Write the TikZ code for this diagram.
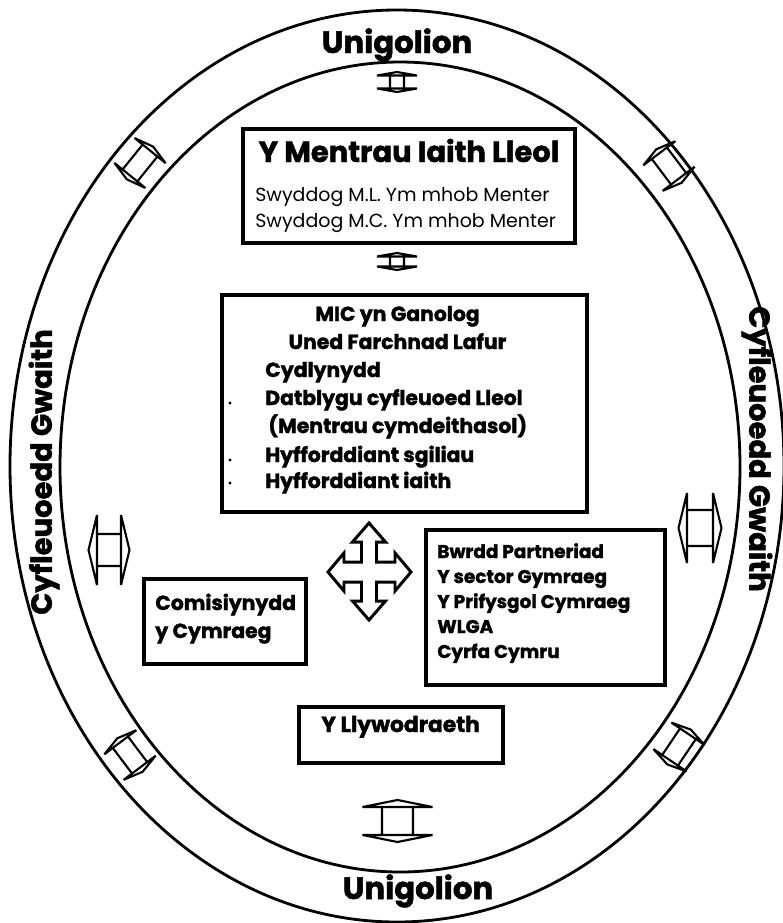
\documentclass[tikz,border=0pt]{standalone}
\usepackage{fontspec}
\setmainfont{Poppins}[BoldFeatures={FakeBold=1.6}]
\usetikzlibrary{calc}
\tikzset{
  heavy/.style={font=\bfseries\fontsize{#1}{#1}\selectfont,inner sep=0pt},
  light/.style={font=\fontsize{#1}{#1}\selectfont,inner sep=0pt},
  bigbox/.style={line width=2.6pt},
  smallbox/.style={line width=1.9pt},
  ring/.style={line width=1.6pt},
}
\newcommand\dblarrow[7]{%
  \begin{scope}[shift={(#1,#2)},rotate=#3,line width=1.2pt,line join=miter,miter limit=4]
    \draw (-#4,-#7) -- (-#4-#5,0) -- (-#4,#7) -- cycle
          (#4,-#7) -- (#4+#5,0) -- (#4,#7) -- cycle
          (-#4,-#6) -- (#4,-#6) (-#4,#6) -- (#4,#6);
  \end{scope}}
\begin{document}
\begin{tikzpicture}[x=0.02cm,y=-0.02cm]
\useasboundingbox (0,0) rectangle (782,923);
\pgfmathsetmacro\ra{387}
\pgfmathsetmacro\rb{456}
\pgfmathsetmacro\ia{340}
\pgfmathsetmacro\ib{405}
\coordinate (O) at (397,466);
\coordinate (I) at (400,467);
\draw[ring] (O) ellipse [x radius=\ra,y radius=\rb];
\draw[ring] (I) ellipse [x radius=\ia,y radius=\ib];
\node[heavy=17.5,anchor=base] (unitop) at (397,53) {Unigolion};
\node[heavy=17.5,anchor=base] (unibot) at (418,899) {Unigolion};
\node[heavy=16.5,rotate=90] (gwaithL) at (44,472) {Cyfleuoedd Gwaith};
\node[heavy=16.5,rotate=-90] (gwaithR) at (757,449) {Cyfleuoedd Gwaith};
% ring arrows
\dblarrow{397}{82}{90}{6.5}{3.5}{7}{20}
\dblarrow{397}{261.5}{90}{5}{3.5}{7}{20}
\dblarrow{397.5}{821}{90}{14}{7}{15.5}{35}
\dblarrow{109}{550}{0}{12}{8.5}{16}{35}
\dblarrow{700}{528}{0}{13}{8.5}{18}{35}
\dblarrow{140}{163}{51}{16}{5}{9.5}{20}
\dblarrow{669}{166}{-53}{16}{5}{9.5}{20}
\dblarrow{130}{755}{-53}{16}{5}{9.5}{20}
\dblarrow{679}{747}{56}{16}{5}{9.5}{20}
% Mentrau
\draw[bigbox] (243,129) rectangle (575,243);
\node[heavy=16.5,anchor=base] (mentrau) at (409,162) {Y Mentrau Iaith Lleol};
\node[light=10.8,anchor=base west] (swml) at (255,201) {Swyddog M.L. Ym mhob Menter};
\node[light=10.8,anchor=base west] (swmc) at (255,227) {Swyddog M.C. Ym mhob Menter};
% MIC
\draw[bigbox] (222,295) rectangle (587,512);
\node[heavy=11.6,anchor=base] (mic) at (397.5,321) {MIC yn Ganolog};
\node[heavy=11.6,anchor=base] (uned) at (397.5,349) {Uned Farchnad Lafur};
\node[heavy=11.6,anchor=base west] (cydl) at (265,377) {Cydlynydd};
\node[heavy=11.6,anchor=base west] (datb) at (265,405) {Datblygu cyfleuoed Lleol};
\node[heavy=11.6,anchor=base west] (ment) at (268,433) {(Mentrau cymdeithasol)};
\node[heavy=11.6,anchor=base west] (sgil) at (265,462) {Hyfforddiant sgiliau};
\node[heavy=11.6,anchor=base west] (iaith) at (265,488) {Hyfforddiant iaith};
\foreach \yy in {403,460,483} \fill (230,\yy) circle (1.6);
% cross arrow
\begin{scope}[shift={(369,572)},line width=1.7pt,line join=miter]
\draw (0,-49) -- (16.5,-30) -- (7.5,-30) -- (7.5,-10) -- (26,-10) -- (26,-19) -- (42,0)
  -- (26,19) -- (26,10) -- (7.5,10) -- (7.5,29) -- (16.5,29) -- (0,48)
  -- (-16.5,29) -- (-7.5,29) -- (-7.5,10) -- (-25,10) -- (-25,19) -- (-41,0)
  -- (-25,-19) -- (-25,-10) -- (-7.5,-10) -- (-7.5,-30) -- (-16.5,-30) -- cycle;
\end{scope}
% partners
\draw[smallbox] (426,530) rectangle (665,685);
\node[heavy=10.5,anchor=base west] (bwrdd) at (437,558) {Bwrdd Partneriad};
\node[heavy=10.5,anchor=base west] (sector) at (437,583) {Y sector Gymraeg};
\node[heavy=10.5,anchor=base west] (prif) at (437,608) {Y Prifysgol Cymraeg};
\node[heavy=10.5,anchor=base west] (wlga) at (437,633) {WLGA};
\node[heavy=10.5,anchor=base west] (cyrfa) at (437,658) {Cyrfa Cymru};
\draw[smallbox] (144,579) rectangle (306,664);
\node[heavy=11.6,anchor=base west] (comis) at (155,610) {Comisiynydd};
\node[heavy=11.6,anchor=base west] (cymr) at (155,638) {y Cymraeg};
\draw[smallbox] (299,707) rectangle (503,763);
\node[heavy=12.4,anchor=base west] (llyw) at (321,732) {Y Llywodraeth};
\end{tikzpicture}
\end{document}
